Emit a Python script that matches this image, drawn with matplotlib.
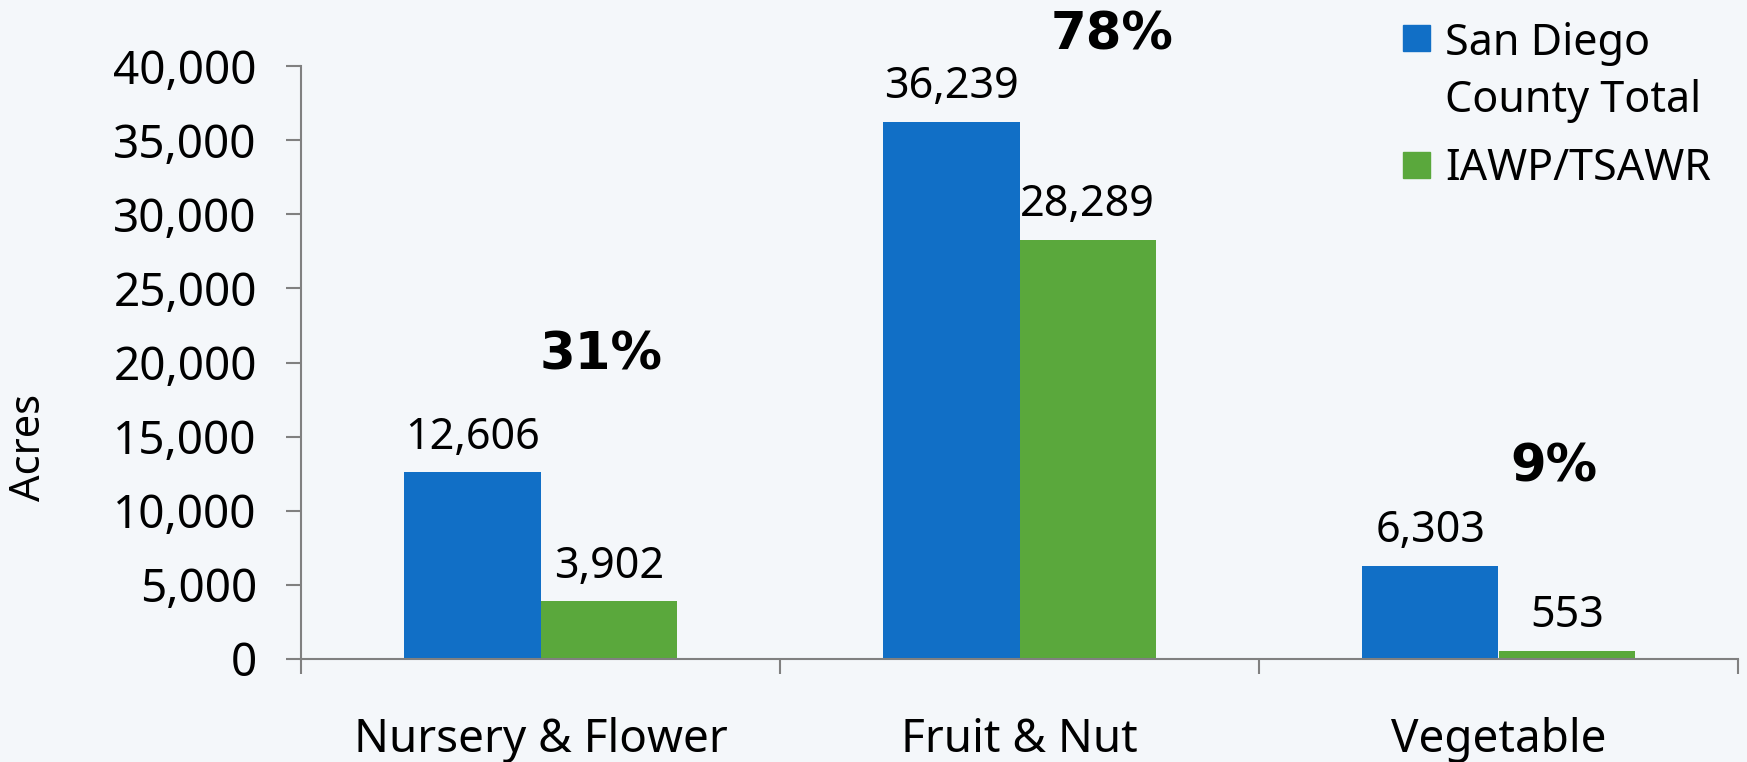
import matplotlib
matplotlib.use("Agg")
import matplotlib.pyplot as plt
from matplotlib.patches import Rectangle
from matplotlib.ticker import FuncFormatter, FixedLocator

# chart data
categories = ["Nursery & Flower", "Fruit & Nut", "Vegetable"]
county_total = [12606, 36239, 6303]
iawp_tsawr = [3902, 28289, 553]
share_labels = ["31%", "78%", "9%"]
# where the share labels sit (x in category units, y in acres)
share_x = [0.126, 1.193, 2.116]
share_y = [19500, 41080, 11950]
series_names = ["San Diego\nCounty Total", "IAWP/TSAWR"]

BLUE = "#116fc6"
GREEN = "#5aa83c"
BG = "#f4f7fa"
AXIS = "#808080"

plt.rcParams["font.family"] = ["Noto Sans", "DejaVu Sans"]

W, H = 1747, 762
fig = plt.figure(figsize=(W / 100, H / 100), dpi=100, facecolor=BG)
ax = fig.add_axes([301 / W, 1 - 659 / H, (1738 - 301) / W, (659 - 66) / H])
ax.set_facecolor(BG)

bw = 0.285
xs = list(range(len(categories)))
b1 = ax.bar([x - bw / 2 for x in xs], county_total, width=bw, color=BLUE)
b2 = ax.bar([x + bw / 2 for x in xs], iawp_tsawr, width=bw, color=GREEN)

for bars, vals in ((b1, county_total), (b2, iawp_tsawr)):
    for rect, v in zip(bars, vals):
        ax.annotate(f"{v:,}", (rect.get_x() + rect.get_width() / 2, v),
                    xytext=(0, 17), textcoords="offset points",
                    ha="center", va="baseline", fontsize=31, color="black",
                    annotation_clip=False)

# bold share labels (DejaVu bold is close to the wide bold face of the original)
for x, y, s in zip(share_x, share_y, share_labels):
    ax.text(x, y, s, ha="center", va="baseline", fontsize=37,
            fontweight="bold", family="DejaVu Sans", color="black")

ax.set_xlim(-0.5, len(categories) - 0.5)
ax.set_ylim(0, 40000)
ax.set_yticks(range(0, 40001, 5000))
ax.yaxis.set_major_formatter(FuncFormatter(lambda v, p: f"{int(v):,}"))
ax.set_xticks(xs)
ax.set_xticklabels(categories)
ax.xaxis.set_minor_locator(FixedLocator([x - 0.5 for x in range(len(categories) + 1)]))

ax.tick_params(axis="y", which="major", length=10.8, width=1.5, color=AXIS,
               labelsize=33, pad=21)
ax.tick_params(axis="x", which="major", length=0, labelsize=33, pad=42)
ax.tick_params(axis="x", which="minor", length=10.8, width=1.5, color=AXIS)

for side in ("top", "right"):
    ax.spines[side].set_visible(False)
for side in ("left", "bottom"):
    ax.spines[side].set_color(AXIS)
    ax.spines[side].set_linewidth(1.5)

fig.text(28.5 / W, 1 - 447 / H, "Acres", rotation=90, ha="center", va="center",
         fontsize=30)

# legend drawn by hand so the square lines up with the first text line
legend_colors = [BLUE, GREEN]
legend_tops = [25, 152]
legend_baselines = [55, 180]
line_step = 57
for c, top, base, name in zip(legend_colors, legend_tops, legend_baselines, series_names):
    fig.patches.append(Rectangle((1403 / W, 1 - (top + 26) / H), 27 / W, 26 / H,
                                 transform=fig.transFigure, color=c))
    for i, line in enumerate(name.split("\n")):
        fig.text(1445 / W, 1 - (base + i * line_step) / H, line,
                 ha="left", va="baseline", fontsize=31)

fig.savefig("out.png", dpi=100, facecolor=BG)
